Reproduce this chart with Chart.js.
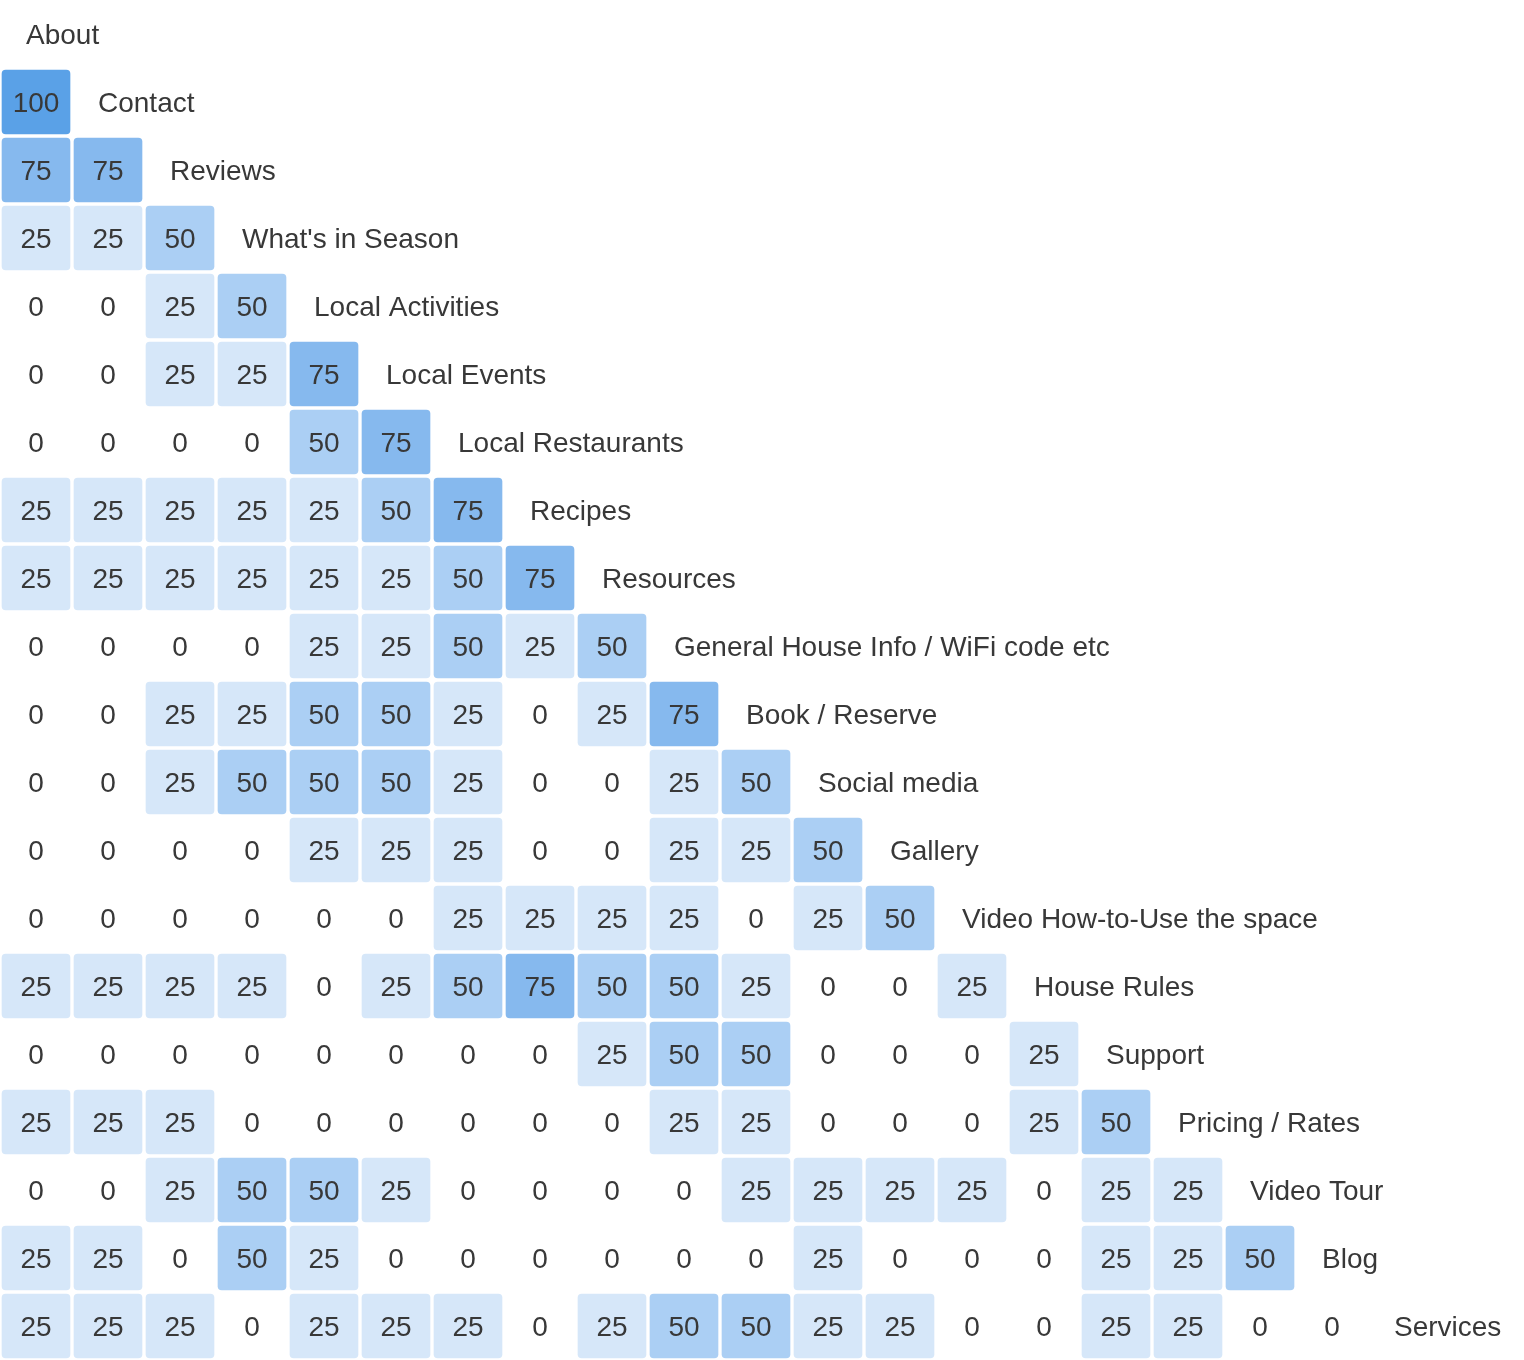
<!DOCTYPE html>
<html>
<head>
<meta charset="utf-8">
<script src="https://cdn.jsdelivr.net/npm/chart.js@4"></script>
<style>
  html, body { margin: 0; padding: 0; background: #fff; }
  #wrap { width: 1524px; height: 1360px; position: relative; }
</style>
</head>
<body>
<div id="wrap"><canvas id="c"></canvas></div>
<script>
// ---- data ----
const pageLabels = [
  "About", "Contact", "Reviews", "What's in Season", "Local Activities",
  "Local Events", "Local Restaurants", "Recipes", "Resources",
  "General House Info / WiFi code etc", "Book / Reserve", "Social media",
  "Gallery", "Video How-to-Use the space", "House Rules", "Support",
  "Pricing / Rates", "Video Tour", "Blog", "Services"
];
const rowAbout = [];
const rowContact = [100];
const rowReviews = [75, 75];
const rowSeason = [25, 25, 50];
const rowActivities = [0, 0, 25, 50];
const rowEvents = [0, 0, 25, 25, 75];
const rowRestaurants = [0, 0, 0, 0, 50, 75];
const rowRecipes = [25, 25, 25, 25, 25, 50, 75];
const rowResources = [25, 25, 25, 25, 25, 25, 50, 75];
const rowHouseInfo = [0, 0, 0, 0, 25, 25, 50, 25, 50];
const rowBook = [0, 0, 25, 25, 50, 50, 25, 0, 25, 75];
const rowSocial = [0, 0, 25, 50, 50, 50, 25, 0, 0, 25, 50];
const rowGallery = [0, 0, 0, 0, 25, 25, 25, 0, 0, 25, 25, 50];
const rowVideoHowTo = [0, 0, 0, 0, 0, 0, 25, 25, 25, 25, 0, 25, 50];
const rowHouseRules = [25, 25, 25, 25, 0, 25, 50, 75, 50, 50, 25, 0, 0, 25];
const rowSupport = [0, 0, 0, 0, 0, 0, 0, 0, 25, 50, 50, 0, 0, 0, 25];
const rowPricing = [25, 25, 25, 0, 0, 0, 0, 0, 0, 25, 25, 0, 0, 0, 25, 50];
const rowVideoTour = [0, 0, 25, 50, 50, 25, 0, 0, 0, 0, 25, 25, 25, 25, 0, 25, 25];
const rowBlog = [25, 25, 0, 50, 25, 0, 0, 0, 0, 0, 0, 25, 0, 0, 0, 25, 25, 50];
const rowServices = [25, 25, 25, 0, 25, 25, 25, 0, 25, 50, 50, 25, 25, 0, 0, 25, 25, 0, 0];

const matrixRows = [
  rowAbout, rowContact, rowReviews, rowSeason, rowActivities, rowEvents,
  rowRestaurants, rowRecipes, rowResources, rowHouseInfo, rowBook, rowSocial,
  rowGallery, rowVideoHowTo, rowHouseRules, rowSupport, rowPricing,
  rowVideoTour, rowBlog, rowServices
];

// ---- styling ----
const CELL_W = 72;      // column pitch in px
const INSET = 2 / 72;   // gap on each side of a cell (in column units)
const FONT = '"Liberation Sans", Arial, Helvetica, sans-serif';
const TEXT_COLOR = '#383838';

function cellColor(v) {
  const map = { 100: '#5aa1e7', 75: '#86b9ee', 50: '#abcff4', 25: '#d6e7f9' };
  return map[v] || 'rgba(0,0,0,0)';
}

const nCols = pageLabels.length - 1;
const datasets = [];
for (let c = 0; c < nCols; c++) {
  const data = [];
  const colors = [];
  for (let r = 0; r < matrixRows.length; r++) {
    const v = matrixRows[r][c];
    if (v !== undefined && v > 0) {
      data.push([c + INSET, c + 1 - INSET]);
    } else {
      data.push(null);
    }
    colors.push(cellColor(v));
  }
  datasets.push({
    label: 'col' + c,
    data: data,
    backgroundColor: colors,
    borderWidth: 0,
    borderRadius: 4,
    borderSkipped: false,
    grouped: false,
    barThickness: 64
  });
}

const textPlugin = {
  id: 'cellText',
  afterDatasetsDraw(chart) {
    const ctx = chart.ctx;
    const xs = chart.scales.x, ys = chart.scales.y;
    ctx.save();
    ctx.font = '28px ' + FONT;
    ctx.fillStyle = TEXT_COLOR;
    ctx.textBaseline = 'middle';
    for (let r = 0; r < matrixRows.length; r++) {
      const y = ys.getPixelForValue(r) + 2;
      ctx.textAlign = 'center';
      matrixRows[r].forEach((v, c) => {
        ctx.fillText(String(v), xs.getPixelForValue(c + 0.5), y);
      });
      ctx.textAlign = 'left';
      ctx.fillText(pageLabels[r], xs.getPixelForValue(r) + 26, y);
    }
    ctx.restore();
  }
};

new Chart(document.getElementById('c'), {
  type: 'bar',
  data: { labels: pageLabels, datasets: datasets },
  options: {
    indexAxis: 'y',
    responsive: true,
    maintainAspectRatio: false,
    animation: false,
    layout: { padding: 0 },
    plugins: { legend: { display: false }, tooltip: { enabled: false } },
    scales: {
      x: { type: 'linear', min: 0, max: 1524 / CELL_W, display: false },
      y: { type: 'category', display: false, offset: true }
    }
  },
  plugins: [textPlugin]
});
</script>
</body>
</html>
